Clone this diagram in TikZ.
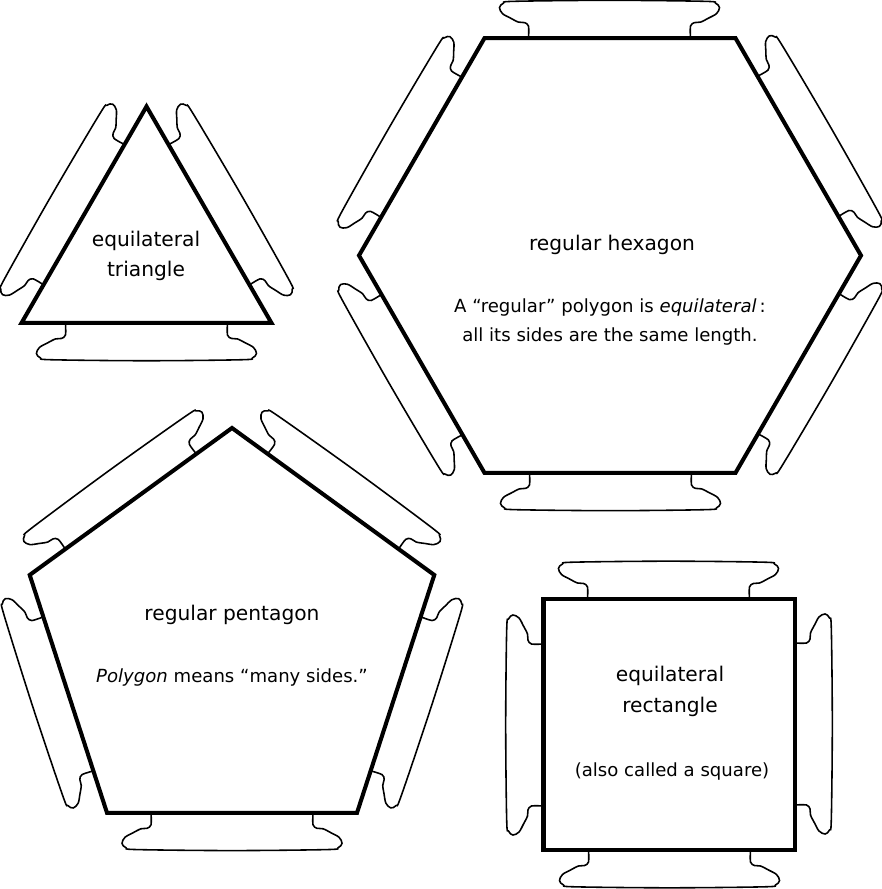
\documentclass[tikz,border=0pt]{standalone}
\usepackage{fontspec}
\setmainfont{DejaVu Sans}
\usepackage{tikz}

\tikzset{
  side/.style={line width=2.3pt, line join=miter},
  tab line/.style={line width=0.9pt},
  shape text/.style={align=center, font=\fontsize{11.5}{17.5}\selectfont},
  note text/.style={align=center, font=\fontsize{10.3}{16}\selectfont},
  tab/.pic={
    \draw[tab line] plot[smooth, tension=.55] coordinates {(44,0) (44,12) (40,15.5)
      (34,16) (26,20) (18,24.5) (15,30.5) (19,35) (30,36.8) (125,37.8) (220,36.8)
      (231,35) (235,30.5) (232,24.5) (224,20) (216,16) (210,15.5) (206,12) (206,0)};
  }
}

\begin{document}
\begin{tikzpicture}[x=0.02cm, y=0.02cm]
    \useasboundingbox (0,0) rectangle (882,889);

    \coordinate (tri) at (146.5,638.2);
    \coordinate (hex) at (610,633.5);
    \coordinate (pent) at (232,248.3);
    \coordinate (sq) at (669,164.5);

    % tabs round every side
    \foreach \k in {0,1,2}
        \path (tri) ++({210-120*\k}:144.3) pic[rotate={60-120*\k}] {tab};
    \foreach \k in {0,...,5}
        \path (hex) ++({180-60*\k}:251) pic[rotate={60-60*\k}] {tab};
    \foreach \k in {0,...,4}
        \path (pent) ++({234-72*\k}:212.7) pic[rotate={108-72*\k}] {tab};
    \foreach \k in {0,...,3}
        \path (sq) ++({225-90*\k}:177.5) pic[rotate={90-90*\k}] {tab};

    % the shapes
    \draw[side, shift={(tri)}] (210:144.3) -- (90:144.3) -- (-30:144.3) -- cycle;
    \draw[side, shift={(hex)}] (180:251) -- (120:251) -- (60:251) -- (0:251)
        -- (-60:251) -- (-120:251) -- cycle;
    \draw[side, shift={(pent)}] (234:212.7) -- (162:212.7) -- (90:212.7)
        -- (18:212.7) -- (-54:212.7) -- cycle;
    \draw[side, shift={(sq)}] (225:177.5) -- (135:177.5) -- (45:177.5)
        -- (-45:177.5) -- cycle;

    \node[shape text] (tri name) at (146,633) {equilateral\\triangle};
    \node[shape text] (hex name) at (612,644) {regular hexagon};
    \node[note text] (hex note) at (610,567)
        {A “regular” polygon is \textit{equilateral}\,:\\all its sides are the same length.};
    \node[shape text] (pent name) at (232,274) {regular pentagon};
    \node[note text] (pent note) at (232,211) {\textit{Polygon} means “many sides.”};
    \node[shape text] (sq name) at (670,197.5) {equilateral\\rectangle};
    \node[note text] (sq note) at (672,117) {(also called a square)};

\end{tikzpicture}
\end{document}
